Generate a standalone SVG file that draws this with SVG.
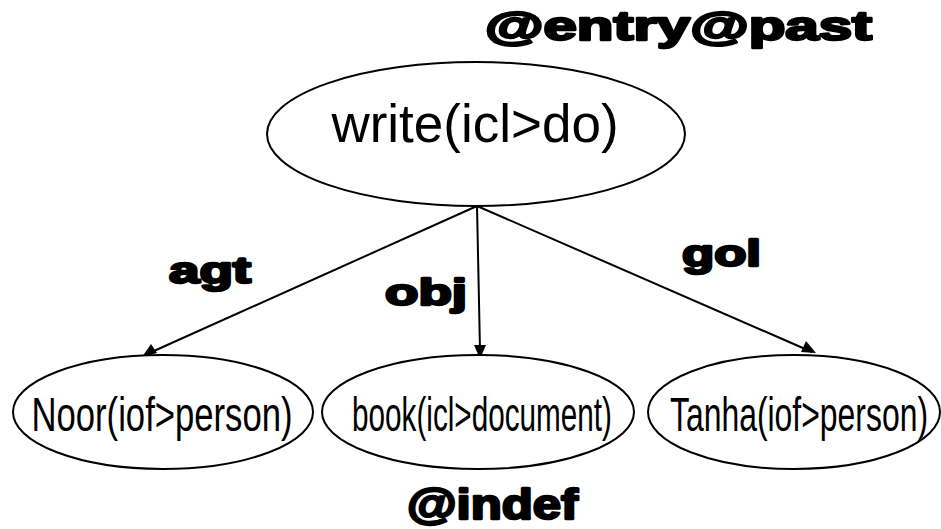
<svg xmlns="http://www.w3.org/2000/svg" width="941" height="529" viewBox="0 0 941 529">
<style>
.node{fill:#fff;stroke:#000;stroke-width:2}
.t{font-family:"Liberation Sans",Arial,sans-serif;fill:#000;text-anchor:middle}
.b{font-family:"Liberation Sans",Arial,sans-serif;font-weight:bold;fill:#000;stroke:#000;stroke-width:2.4;stroke-linejoin:round}
.edge{stroke:#000;stroke-width:2;fill:none}
</style>
<rect width="941" height="529" fill="#fff"/>
<g id="connectors">
<line class="edge" x1="477" y1="206" x2="145" y2="355"/>
<path d="M142,357 L151,344 L157,353 z" fill="#000"/>
<line class="edge" x1="477" y1="206" x2="480" y2="350"/>
<path d="M480,359 L474,345 L486,345 z" fill="#000"/>
<line class="edge" x1="477" y1="206" x2="812" y2="352"/>
<path d="M816,353 L801,352 L806,341 z" fill="#000"/>
</g>
<g id="labels">
<text class="b" x="485" y="40" font-size="40" textLength="387" lengthAdjust="spacingAndGlyphs">@entry@past</text>
<text class="b" x="169" y="283" font-size="36" textLength="82" lengthAdjust="spacingAndGlyphs">agt</text>
<text class="b" x="385" y="305" font-size="36" textLength="82" lengthAdjust="spacingAndGlyphs">obj</text>
<text class="b" x="682" y="266" font-size="36" textLength="79" lengthAdjust="spacingAndGlyphs">gol</text>
<text class="b" x="407" y="519" font-size="42" textLength="171" lengthAdjust="spacingAndGlyphs">@indef</text>
</g>
<g id="write">
<ellipse class="node" cx="476" cy="134" rx="209" ry="72"/>
<text class="t" x="475" y="142" font-size="53">write(icl&gt;do)</text>
</g>
<g id="noor">
<ellipse class="node" cx="163" cy="412" rx="150" ry="57"/>
<text class="t" transform="translate(162,431) scale(1,1.45)" font-size="33" textLength="261" lengthAdjust="spacingAndGlyphs">Noor(iof&gt;person)</text>
</g>
<g id="book">
<ellipse class="node" cx="478" cy="412" rx="156" ry="57"/>
<text class="t" transform="translate(482,431) scale(1,1.45)" font-size="33" textLength="260" lengthAdjust="spacingAndGlyphs">book(icl&gt;document)</text>
</g>
<g id="tanha">
<ellipse class="node" cx="794" cy="412" rx="146" ry="57"/>
<text class="t" transform="translate(799,431) scale(1,1.45)" font-size="33" textLength="258" lengthAdjust="spacingAndGlyphs">Tanha(iof&gt;person)</text>
</g>
</svg>
